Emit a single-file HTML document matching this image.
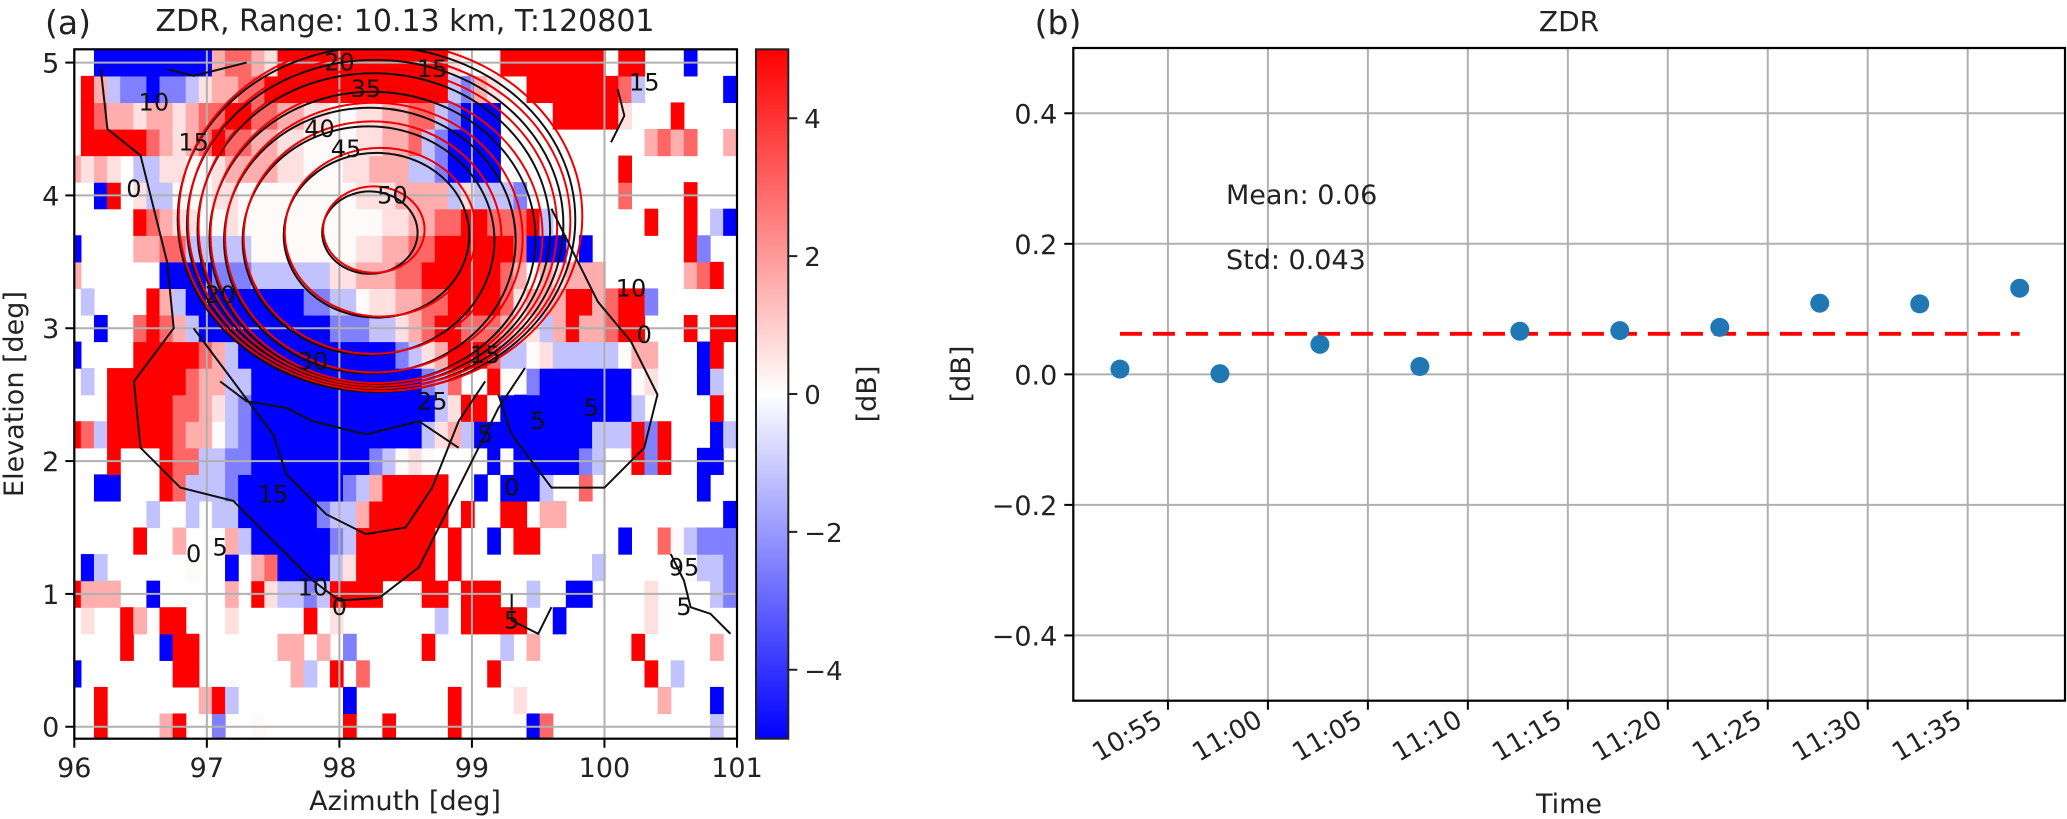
<!DOCTYPE html>
<html><head><meta charset="utf-8"><style>
html,body{margin:0;padding:0;background:#fff;}
svg{display:block;font-family:"DejaVu Sans","Liberation Sans",sans-serif;}
</style></head><body>
<svg id="fig" width="2067" height="819" viewBox="0 0 2067 819" xmlns="http://www.w3.org/2000/svg">
<defs>
<linearGradient id="bwr" x1="0" y1="1" x2="0" y2="0">
<stop offset="0" stop-color="#0000ff"/><stop offset="0.5" stop-color="#ffffff"/><stop offset="1" stop-color="#ff0000"/>
</linearGradient>
<clipPath id="clipA"><rect x="74.3" y="49.3" width="662.7" height="689.4"/></clipPath>
</defs>
<g id="panelA"></g>
<g id="cbar"></g>
<g id="panelB"></g>
</svg>
<script>
// ---------- Panel (a) data ----------
const azRange = [96, 101];
const elRange = [-0.09, 5.1];
const xTicksA = [96, 97, 98, 99, 100, 101];
const yTicksA = [0, 1, 2, 3, 4, 5];
const azStart = 96.0;
const azStep = 0.0989;
const elStep = 0.2;
const symbolValues = {R:5, r:3, p:1.6, q:0.6, w:0.1, l:-1.2, m:-2.5, B:-5};
// rows from elevation 0.0 (index 0) to 5.0 (index 25); '.' = no data
const zdrRows = [
"..R....pR..m..w......R..R....R.....Br............l..",
"..R.......pRl........B.......R....q..........p...B..",
"B.......RR.......pl.R.r.........R...........R.l.....",
"....R..BRR......pp.p.m.....R.....l.p.......R.....p..",
".q..Rp.RR...q.....R.q.......l.RRRRR..B......q.......",
"Rppp..B.....p.RqllmlRRRR...RR.RRR..l..BB....q....lm.",
".Bl......w..B.prBBBBlqRRRRRR.R..........l......wllm.",
".....R..p...plBBBBBBmlRRRRRR.R..B.RR......B..rwlmmm.",
"......l..l.llBBBBBBmllpRRRRRR.R..RR.pp............B.",
"..BB...RrlllmBBBBBBBBmlpRRRRR..B.BBBl..r........B...",
"...R...RrrllmmBBBBBBBBBmlwqw....BwBBBBBml..RmR..BB..",
"RrlRRRRRrppwlmBBBBBBBBBBBBBlqplBBBBBBBBBlllRmR...Bl.",
"...RRRRRrrpqlmBBBBBBBBBBBBBBlqRRwBBBBBBBBBBl.....R..",
".l.RRRRRRrppllBBBBBBBBBBBBBmlr..Rw.mBBBBBBBwq...Bl..",
"B....RRRRRrplBBBBBBBBBBBBmlqpRRRrllwqlllllwpp...BR..",
"..B..rRrplBBBBBBBBBBmmmllqprRRrrrpqqlpRpprRR...R.RR.",
".l....RplBBBBBBBBBmmllwqqpprrRRRRrqpppRRprRRm.......",
"p......BBBBmmmllllllqqppprrRRRRRRrpwpqppp......prR..",
"B....pprrlllllwwwwwwwwqqpprrRRRRRRrBBB.B.......Rm...",
".....RrpqqwwqwwwwwwwwwwwqqpprrRRrrrRl.......R..R.lBq",
"..BR.qllwwwqqwwwwwwwwwqqqpppplqlllm.......r....R....",
"pqpq.llqqwwqppppqqwwwqqpppllmBBBB.........R.........",
".RRRRRrpqprRrrppqqwwwwqqpprlmBBBB...........prpr..p.",
".RrppqppqprrRRrrppqqwwqqpprrlmBBB....RRRRRq...R.....",
".RplmmBmmlqpprrRRRRRRRRRRRRRRlmpq..RRRRRRRrl......B.",
"..BBBBBBBBBprrpqRRRRRRRRRRRRRq...RRRRRRRR.RR...B...."
];
// contour rings: level, centre az, centre el, radius az, radius el
const ringLevels = [50, 45, 40, 35, 30, 25, 20, 15];
const ringAz = [98.23, 98.28, 98.22, 98.23, 98.25, 98.26, 98.27, 98.28];
const ringEl = [3.72, 3.70, 3.66, 3.66, 3.68, 3.74, 3.78, 3.82];
const ringRx = [0.36, 0.70, 0.95, 1.10, 1.23, 1.33, 1.42, 1.50];
const ringRy = [0.31, 0.62, 0.86, 1.00, 1.10, 1.18, 1.24, 1.30];
const outerContours = [
 [[96.2,4.95],[96.25,4.5],[96.5,4.3],[96.6,3.9],[96.7,3.5],[96.75,3.0],[96.6,2.8],[96.45,2.6],[96.5,2.1],[96.8,1.8],[97.2,1.7],[97.5,1.4],[97.8,1.1],[98.0,0.95],[98.3,0.97],[98.6,1.2],[98.8,1.6],[99.0,2.0],[99.2,2.4],[99.4,2.7]],
 [[96.9,3.0],[97.2,2.6],[97.5,2.2],[97.6,1.9],[97.9,1.6],[98.2,1.45],[98.5,1.5],[98.7,1.8],[98.9,2.3],[99.1,2.6]],
 [[99.6,3.9],[99.8,3.5],[99.95,3.2],[100.2,2.9],[100.4,2.5],[100.3,2.1],[100.0,1.8],[99.6,1.8],[99.3,2.2],[99.2,2.5]],
 [[97.1,2.6],[97.3,2.45],[97.6,2.4],[97.8,2.3],[98.2,2.2],[98.6,2.3],[98.9,2.1]],
 [[99.3,1.0],[99.3,0.8],[99.5,0.7],[99.6,0.9]],
 [[100.5,1.3],[100.6,1.1],[100.65,0.9],[100.8,0.85],[100.95,0.7]],
 [[100.1,4.8],[100.15,4.6],[100.05,4.4]],
 [[96.7,4.95],[96.9,4.9],[97.1,4.95],[97.3,5.0]]
];
const labelAz = [98.0,98.7,96.6,97.85,98.2,98.05,98.4,96.45,96.9,97.1,97.8,98.7,97.5,97.1,97.8,98.0,99.9,99.5,99.1,99.3,100.2,100.3,100.6,100.6,99.3,99.1,96.9,100.3];
const labelEl = [5.0,4.95,4.7,4.5,4.8,4.35,4.0,4.05,4.4,3.25,2.75,2.45,1.75,1.35,1.05,0.9,2.4,2.3,2.2,1.8,3.3,2.95,1.2,0.9,0.8,2.8,1.3,4.85];
const labelTxt = ["20","15","10","40","35","45","50","0","15","20","30","25","15","5","10","0","5","5","5","0","10","0","95","5","5","15","0","15"];

// ---------- Colorbar data ----------
const cbRange = [-5, 5];
const cbTicks = [-4, -2, 0, 2, 4];

// ---------- Panel (b) data ----------
const timeLabels = ["10:52:36","10:57:36","11:02:36","11:07:36","11:12:36","11:17:36","11:22:36","11:27:36","11:32:36","11:37:36"];
const zdrValues = [0.008, 0.001, 0.046, 0.012, 0.066, 0.067, 0.072, 0.109, 0.108, 0.132];
const xTickLabelsB = ["10:55","11:00","11:05","11:10","11:15","11:20","11:25","11:30","11:35"];
const yTicksB = [-0.4, -0.2, 0.0, 0.2, 0.4];
const yRangeB = [-0.5, 0.5];
const xRangeB = ["10:50:16", "11:39:52"];

const NS = "http://www.w3.org/2000/svg";
function mk(tag, attrs, parent) {
  const e = document.createElementNS(NS, tag);
  for (const k in attrs) e.setAttribute(k, attrs[k]);
  if (parent) parent.appendChild(e);
  return e;
}
function txt(parent, x, y, s, size, anchor, extra) {
  const t = mk('text', Object.assign({x:x, y:y, 'font-size':size, 'text-anchor':anchor||'middle', fill:'#222'}, extra||{}), parent);
  t.textContent = s;
  return t;
}
function bwr(v) {
  let t = (v - cbRange[0]) / (cbRange[1] - cbRange[0]);
  t = Math.max(0, Math.min(1, t));
  let r, g, b;
  if (t < 0.5) { r = Math.round(510*t); g = r; b = 255; }
  else { r = 255; g = Math.round(510*(1-t)); b = g; }
  return `rgb(${r},${g},${b})`;
}

// ---------- Panel (a) ----------
const A = {l:74.3, r:737, t:49.3, b:738.7};
const X = az => A.l + (az - azRange[0]) / (azRange[1] - azRange[0]) * (A.r - A.l);
const Y = el => A.b - (el - elRange[0]) / (elRange[1] - elRange[0]) * (A.b - A.t);
const pa = document.getElementById('panelA');
const cellG = mk('g', {'clip-path':'url(#clipA)'}, pa);


zdrRows.forEach((row, k) => {
  const el = k * elStep;
  for (let j = 0; j < row.length; j++) {
    const c = row[j];
    if (!(c in symbolValues)) continue;
    const az = azStart + j * azStep;
    const x0 = X(az - azStep/2), x1 = X(az + azStep/2);
    const y0 = Y(el + elStep/2), y1 = Y(el - elStep/2);
    const rc = mk('rect', {x:x0, y:y0, width:x1-x0+0.6, height:y1-y0+0.6, fill:bwr(symbolValues[c])}, cellG);
    
    
  }
});
// grid
const gridA = mk('g', {stroke:'#b0b0b0', 'stroke-width':2}, pa);
xTicksA.forEach(v => mk('line', {x1:X(v), x2:X(v), y1:A.t, y2:A.b}, gridA));
yTicksA.forEach(v => mk('line', {x1:A.l, x2:A.r, y1:Y(v), y2:Y(v)}, gridA));
// contours
const contG = mk('g', {'clip-path':'url(#clipA)', fill:'none'}, pa);


ringLevels.forEach((lv, i) => {
  const cx = X(ringAz[i]), cy = Y(ringEl[i]);
  const rx = X(ringAz[i] + ringRx[i]) - cx, ry = cy - Y(ringEl[i] + ringRy[i]);
  const e1 = mk('ellipse', {cx:cx, cy:cy, rx:rx, ry:ry, stroke:'#111', 'stroke-width':2}, contG);
  
  
  const e2 = mk('ellipse', {cx:cx + 4, cy:cy - 3, rx:rx + 3, ry:ry + 2, stroke:'#e00', 'stroke-width':2}, contG);
  
  
});
outerContours.forEach(pts => {
  const p = mk('polyline', {points: pts.map(q => X(q[0]) + ',' + Y(q[1])).join(' '), stroke:'#111', 'stroke-width':2}, contG);
  
  
});
const labG = mk('g', {'clip-path':'url(#clipA)'}, pa);
labelTxt.forEach((s, i) => {
  const t = txt(labG, X(labelAz[i]), Y(labelEl[i]) + 8, s, 24, 'middle', {fill:'#111'});
  
  
});
// frame & ticks
mk('rect', {x:A.l, y:A.t, width:A.r-A.l, height:A.b-A.t, fill:'none', stroke:'#000', 'stroke-width':2.2}, pa);
xTicksA.forEach(v => {
  mk('line', {x1:X(v), x2:X(v), y1:A.b, y2:A.b+9, stroke:'#000', 'stroke-width':2}, pa);
  const t = txt(pa, X(v), 777, String(v), 27);
  
  
});
yTicksA.forEach(v => {
  mk('line', {x1:A.l-9, x2:A.l, y1:Y(v), y2:Y(v), stroke:'#000', 'stroke-width':2}, pa);
  const t = txt(pa, A.l-15, Y(v)+10, String(v), 27, 'end');
  
  
});
let t;
t = txt(pa, 405, 810, 'Azimuth [deg]', 27);  
t = txt(pa, 0, 0, 'Elevation [deg]', 27, 'middle', {transform:'translate(23,394) rotate(-90)'});  
t = txt(pa, 68, 34, '(a)', 33);  
t = txt(pa, 405, 31, 'ZDR, Range: 10.13 km, T:120801', 30);  

// ---------- Colorbar ----------
const cb = document.getElementById('cbar');
const C = {l:756, r:788.3, t:49.3, b:738.7};
const CY = v => C.b - (v - cbRange[0]) / (cbRange[1] - cbRange[0]) * (C.b - C.t);
mk('rect', {x:C.l, y:C.t, width:C.r-C.l, height:C.b-C.t, fill:'url(#bwr)', stroke:'#222', 'stroke-width':2}, cb);
cbTicks.forEach(v => {
  mk('line', {x1:C.r, x2:C.r+9, y1:CY(v), y2:CY(v), stroke:'#222', 'stroke-width':2}, cb);
  const s = v < 0 ? '\u2212' + Math.abs(v) : String(v);
  const tt = txt(cb, C.r+16, CY(v)+10, s, 26, 'start');
  
  
});
t = txt(cb, 0, 0, '[dB]', 27, 'middle', {transform:'translate(876,394) rotate(-90)'});  

// ---------- Panel (b) ----------
const B = {l:1073.3, r:2065, t:48, b:700.7};
const toMin = s => { const p = s.split(':').map(Number); return p[0]*60 + p[1] + (p[2]||0)/60; };
const xb0 = toMin(xRangeB[0]), xb1 = toMin(xRangeB[1]);
const XB = s => B.l + (toMin(s) - xb0) / (xb1 - xb0) * (B.r - B.l);
const YB = v => B.b - (v - yRangeB[0]) / (yRangeB[1] - yRangeB[0]) * (B.b - B.t);
const pb = document.getElementById('panelB');
const gridB = mk('g', {stroke:'#b0b0b0', 'stroke-width':2}, pb);
xTickLabelsB.forEach(s => mk('line', {x1:XB(s), x2:XB(s), y1:B.t, y2:B.b}, gridB));
yTicksB.forEach(v => mk('line', {x1:B.l, x2:B.r, y1:YB(v), y2:YB(v)}, gridB));
const meanV = zdrValues.reduce((a, b) => a + b, 0) / zdrValues.length;
const sd = Math.sqrt(zdrValues.reduce((a, b) => a + (b - meanV) ** 2, 0) / zdrValues.length);
const ml = mk('line', {x1:XB(timeLabels[0]), x2:XB(timeLabels[timeLabels.length-1]), y1:YB(meanV), y2:YB(meanV), stroke:'#ff0000', 'stroke-width':3.8, 'stroke-dasharray':'22 11'}, pb);


zdrValues.forEach((v, i) => {
  const c = mk('circle', {cx:XB(timeLabels[i]), cy:YB(v), r:9.5, fill:'#1f77b4'}, pb);
  
  
});
mk('rect', {x:B.l, y:B.t, width:B.r-B.l, height:B.b-B.t, fill:'none', stroke:'#000', 'stroke-width':2.2}, pb);
xTickLabelsB.forEach(s => {
  const x = XB(s);
  mk('line', {x1:x, x2:x, y1:B.b, y2:B.b+9, stroke:'#000', 'stroke-width':2}, pb);
  const tt = txt(pb, x-4, B.b+24, s, 26, 'end', {transform:`rotate(-30 ${x-4} ${B.b+24})`});
  
  
});
yTicksB.forEach(v => {
  const y = YB(v);
  mk('line', {x1:B.l-9, x2:B.l, y1:y, y2:y, stroke:'#000', 'stroke-width':2}, pb);
  const s = (v < 0 ? '\u2212' : '') + Math.abs(v).toFixed(1);
  const tt = txt(pb, B.l-16, y+10, s, 27, 'end');
  
  
});
t = txt(pb, 1226, 204, 'Mean: ' + meanV.toFixed(2), 27, 'start');  
t = txt(pb, 1226, 269, 'Std: ' + sd.toFixed(3), 27, 'start');  
t = txt(pb, 1569, 813, 'Time', 27);  
t = txt(pb, 0, 0, '[dB]', 27, 'middle', {transform:'translate(970,374) rotate(-90)'});  
t = txt(pb, 1058, 34, '(b)', 33);  
t = txt(pb, 1569, 31, 'ZDR', 28);  
</script>
</body></html>
